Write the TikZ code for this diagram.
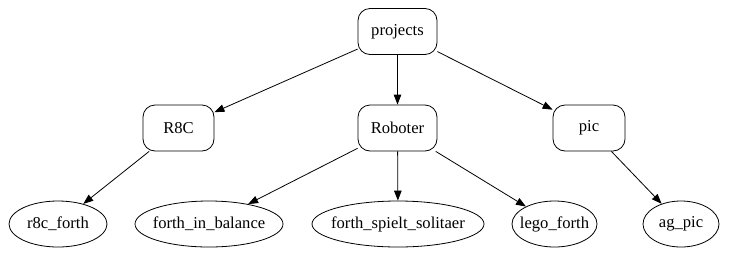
\documentclass[tikz,border=0pt]{standalone}
\usepackage{fontspec}
\setmainfont{Liberation Serif}
\usetikzlibrary{shapes.geometric,arrows.meta}
\begin{document}
\begin{tikzpicture}[x=1pt,y=-1pt,
  every node/.style={font=\fontsize{16.6}{18}\selectfont, inner sep=0pt},
  rbox/.style={draw, line width=0.8pt, rectangle, rounded corners=12pt, minimum height=46pt},
  oval/.style={draw, line width=0.8pt, ellipse, minimum height=46pt},
  edge/.style={line width=0.8pt, -{Triangle[length=10pt,width=7.5pt]}}]
\useasboundingbox (0,0) rectangle (730,255);
\node[rbox, minimum width=79pt] (projects) at (397.5,31.5) {projects};
\node[rbox, minimum width=71pt] (r8c) at (178.5,128) {R8C};
\node[rbox, minimum width=79pt] (roboter) at (397.5,128) {Roboter};
\node[rbox, minimum width=72pt] (pic) at (589,128) {pic};
\node[oval, minimum width=98pt] (r8cforth) at (58,224) {\makebox[0pt]{r8c\_forth}};
\node[oval, minimum width=148pt] (balance) at (209,224) {\makebox[0pt]{forth\_in\_balance}};
\node[oval, minimum width=172pt] (solitaer) at (398,224) {\makebox[0pt]{forth\_spielt\_solitaer}};
\node[oval, minimum width=85pt] (lego) at (554.5,224) {\makebox[0pt]{lego\_forth}};
\node[oval, minimum width=76pt] (agpic) at (681,224) {\makebox[0pt]{ag\_pic}};
\draw[edge] (projects) -- (r8c);
\draw[edge] (projects) -- (roboter);
\draw[edge] (projects) -- (pic);
\draw[edge] (r8c) -- (r8cforth);
\draw[edge] (roboter) -- (balance);
\draw[edge] (roboter) -- (solitaer);
\draw[edge] (roboter) -- (lego);
\draw[edge] (pic) -- (agpic);
\end{tikzpicture}
\end{document}
